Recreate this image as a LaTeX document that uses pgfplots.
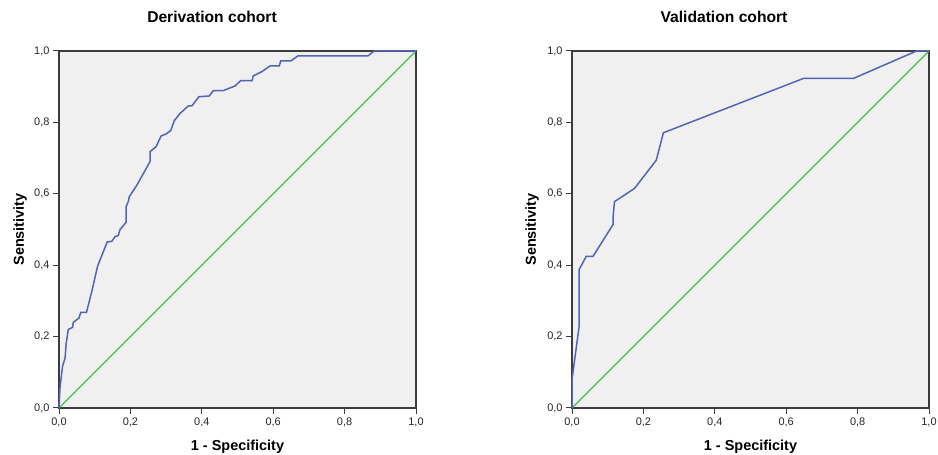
\documentclass[border=0pt]{standalone}
\usepackage{fontspec}
\setmainfont{Liberation Sans}
\usepackage{pgfplots}
\pgfplotsset{compat=1.18}
\definecolor{rocblue}{RGB}{82,100,178}
\definecolor{rocgreen}{RGB}{72,188,82}
\definecolor{plotbg}{RGB}{240,240,240}
\definecolor{framecol}{RGB}{60,60,60}

\pgfplotsset{
  rocaxis/.style={
    scale only axis,
    width=357bp, height=357bp,
    xmin=0, xmax=1, ymin=0, ymax=1,
    xtick={0,0.2,...,1.0}, ytick={0,0.2,...,1.0},
    /pgf/number format/.cd, fixed, fixed zerofill, precision=1, use comma, assume math mode=true,
    /pgfplots/.cd,
    tick label style={font=\fontsize{11}{12}\selectfont, text=black!85},
    tick align=outside,
    major tick length=6bp,
    tick style={framecol, line width=1pt},
    xtick pos=bottom, ytick pos=left,
    axis line style={framecol, line width=1.5pt},
    axis background/.style={fill=plotbg},
    xlabel={\bfseries 1 - Specificity},
    ylabel={\bfseries Sensitivity},
    label style={font=\fontsize{14.5}{16}\selectfont},
    xlabel style={at={(axis description cs:0.5,-0.108)}, anchor=center},
    clip=false,
  }
}

\begin{document}
\begin{tikzpicture}[x=1bp,y=1bp]
\path[use as bounding box] (0,0) rectangle (938,455);

\node[font=\fontsize{15.7}{17}\selectfont\bfseries] at (212,438) {Derivation cohort};
\node[font=\fontsize{15.7}{17}\selectfont\bfseries] at (724,438) {Validation cohort};

\begin{axis}[rocaxis, at={(59bp,47bp)}, anchor=south west,
  ylabel style={at={(axis description cs:-0.109,0.5)}, anchor=center}]
\addplot[rocgreen, line width=1.2pt] coordinates {(0,0) (1,1)};
\addplot[rocblue, line width=1.5pt] coordinates {
(0,0) (0.003,0.06) (0.01,0.117) (0.017,0.14) (0.02,0.18) (0.026,0.22)
(0.038,0.226) (0.04,0.24) (0.056,0.252) (0.061,0.268) (0.077,0.268)
(0.092,0.327) (0.108,0.397) (0.135,0.465) (0.148,0.467) (0.157,0.48)
(0.166,0.483) (0.171,0.50) (0.188,0.52) (0.188,0.564) (0.194,0.578)
(0.197,0.592) (0.218,0.624) (0.255,0.69) (0.255,0.718) (0.272,0.732)
(0.286,0.762) (0.299,0.767) (0.313,0.777) (0.323,0.805) (0.339,0.825)
(0.362,0.846) (0.372,0.846) (0.392,0.872) (0.421,0.874) (0.432,0.889)
(0.46,0.889) (0.493,0.902) (0.509,0.917) (0.541,0.917) (0.544,0.930)
(0.568,0.942) (0.591,0.958) (0.617,0.958) (0.621,0.972) (0.649,0.972)
(0.669,0.986) (0.865,0.986) (0.883,1.0) (1,1)
};
\end{axis}

\begin{axis}[rocaxis, at={(572bp,47bp)}, anchor=south west,
  ylabel style={at={(axis description cs:-0.112,0.5)}, anchor=center}]
\addplot[rocgreen, line width=1.2pt] coordinates {(0,0) (1,1)};
\addplot[rocblue, line width=1.5pt] coordinates {
(0,0) (0,0.08) (0.02,0.229) (0.02,0.388) (0.04,0.425) (0.059,0.425)
(0.115,0.514) (0.115,0.535) (0.119,0.578) (0.175,0.615) (0.236,0.694)
(0.256,0.771) (0.648,0.923) (0.788,0.923) (0.965,1.0) (1,1)
};
\end{axis}
\end{tikzpicture}
\end{document}
